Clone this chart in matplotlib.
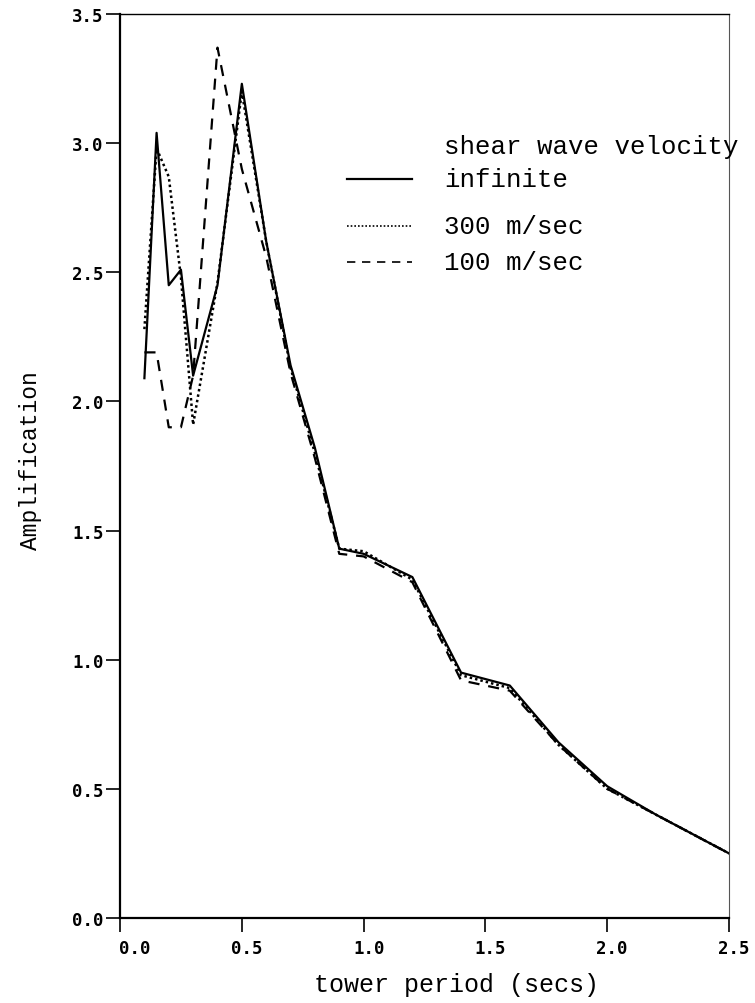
import matplotlib
matplotlib.use("Agg")
from matplotlib import pyplot as plt
from matplotlib.transforms import ScaledTranslation

# tower period (secs)
PERIOD = [0.1, 0.15, 0.2, 0.25, 0.3, 0.4, 0.5, 0.6, 0.7, 0.8, 0.9, 1.0, 1.2, 1.4, 1.6, 1.8, 2.0, 2.2, 2.5]

# amplification for each shear wave velocity
AMP_INFINITE = [2.09, 3.04, 2.45, 2.51, 2.10, 2.45, 3.23, 2.62, 2.14, 1.82, 1.43, 1.41, 1.32, 0.95, 0.90, 0.68, 0.51, 0.40, 0.25]
AMP_300 = [2.28, 2.98, 2.87, 2.48, 1.91, 2.46, 3.20, 2.62, 2.13, 1.80, 1.43, 1.42, 1.31, 0.94, 0.89, 0.67, 0.50, 0.40, 0.25]
AMP_100 = [2.19, 2.19, 1.90, 1.90, 2.10, 3.37, 2.90, 2.56, 2.11, 1.78, 1.41, 1.40, 1.30, 0.92, 0.88, 0.67, 0.50, 0.40, 0.25]

X_TICKS = ["0.0", "0.5", "1.0", "1.5", "2.0", "2.5"]
Y_TICKS = ["0.0", "0.5", "1.0", "1.5", "2.0", "2.5", "3.0", "3.5"]

LEGEND_TITLE = "shear wave velocity"
LEGEND_LABELS = ["infinite", "300 m/sec", "100 m/sec"]

MONO = "Liberation Mono"
DOTTED = (0, (1, 1.2))
DASHED = (0, (5, 4))


def main():
    fig = plt.figure(figsize=(7.55, 10.04), dpi=100)
    ax = fig.add_axes([0.159, 0.0847, 0.8066, 0.9003])

    ax.plot(PERIOD, AMP_INFINITE, color="black", lw=1.6, ls="-")
    ax.plot(PERIOD, AMP_300, color="black", lw=1.8, ls=DOTTED)
    ax.plot(PERIOD, AMP_100, color="black", lw=1.6, ls=DASHED)

    ax.set_xlim(0, 2.5)
    ax.set_ylim(0, 3.5)
    ax.set_xticks([float(t) for t in X_TICKS])
    ax.set_yticks([float(t) for t in Y_TICKS])
    ax.set_xticklabels(X_TICKS)
    ax.set_yticklabels(Y_TICKS)
    ax.tick_params(direction="out", length=10, width=1.2, labelsize=12.5)
    ax.tick_params(axis="y", pad=2)
    ax.tick_params(axis="x", pad=5)
    for lab in ax.get_xticklabels() + ax.get_yticklabels():
        lab.set_family("DejaVu Sans Mono")
        lab.set_fontweight("bold")
    # x labels sit a little right of their ticks, the first one more so
    for i, lab in enumerate(ax.get_xticklabels()):
        dx = 15 if i == 0 else 5
        lab.set_transform(lab.get_transform() + ScaledTranslation(dx / 100, 0, fig.dpi_scale_trans))

    ax.spines["left"].set_linewidth(1.6)
    ax.spines["bottom"].set_linewidth(1.6)
    ax.spines["top"].set_linewidth(1.0)
    ax.spines["right"].set_linewidth(0.8)
    ax.spines["right"].set_color("#555555")

    # hand drawn legend
    ax.text(1.33, 2.99, LEGEND_TITLE, family=MONO, fontsize=18.5, va="center", ha="left")
    ys = [2.86, 2.68, 2.54]
    styles = ["-", DOTTED, DASHED]
    for y, lab, st in zip(ys, LEGEND_LABELS, styles):
        ax.plot([0.93, 1.2], [y, y], color="black", lw=1.6 if st == "-" else 1.2, ls=st)
        ax.text(1.33, y, lab, family=MONO, fontsize=18.5, va="center", ha="left")

    fig.text(0.04, 0.541, "Amplification", family=MONO, fontsize=16.5, rotation=90, va="center", ha="center")
    fig.text(0.604, 0.019, "tower period (secs)", family=MONO, fontsize=18, va="center", ha="center")

    fig.savefig("out.png", dpi=100)


if __name__ == '__main__':
    main()
